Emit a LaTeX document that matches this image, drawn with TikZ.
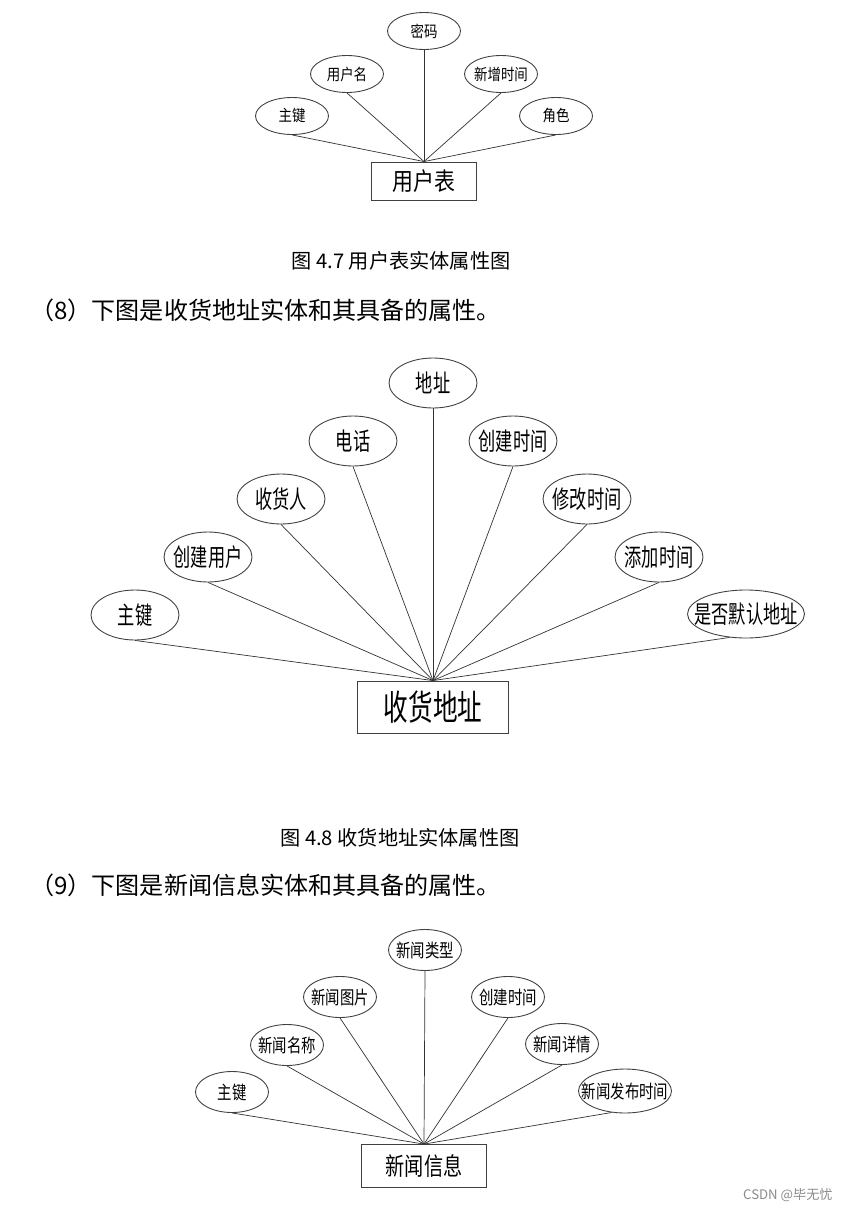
\documentclass[tikz,border=0pt]{standalone}
\usepackage{fontspec}
\newfontfamily\zhfont{Noto Sans CJK SC}
\newfontfamily\tuA[FakeStretch=0.85]{Noto Sans CJK SC}
\newfontfamily\tuB[FakeStretch=0.7]{Noto Sans CJK SC}
\newfontfamily\tuC[FakeStretch=0.78]{Noto Sans CJK SC}
\usetikzlibrary{shapes.geometric}
\begin{document}
\begin{tikzpicture}[x=0.02cm, y=-0.02cm,
    shuxing/.style={ellipse, draw=black!75, line width=0.5pt, inner sep=0pt, fill=white,
        execute at begin node={\hbox to 0pt\bgroup\hss}, execute at end node={\hss\egroup}},
    shiti/.style={rectangle, draw=black!75, line width=0.5pt, inner sep=0pt, fill=white},
    lianxian/.style={draw=black!80, line width=0.4pt},
    tiaomu/.style={font=\zhfont\fontsize{13.7}{15}\selectfont, anchor=west, inner sep=0pt},
    tizhu/.style={font=\zhfont\fontsize{11.5}{13}\selectfont, inner sep=0pt}
]
\useasboundingbox[fill=white] (0,0) rectangle (848,1210);

% 用户表
\begin{scope}[every node/.append style={font=\tuA\fontsize{9}{10}\selectfont}]
\node[shuxing, minimum width=1.46cm, minimum height=0.74cm] (a1) at (292,116) {主键};
\node[shuxing, minimum width=1.46cm, minimum height=0.74cm] (a2) at (347,74) {用户名};
\node[shuxing, minimum width=1.46cm, minimum height=0.74cm] (a3) at (424,31) {密码};
\node[shuxing, minimum width=1.46cm, minimum height=0.74cm] (a4) at (501,74) {新增时间};
\node[shuxing, minimum width=1.46cm, minimum height=0.74cm] (a5) at (556,116) {角色};
\end{scope}
\node[shiti, minimum width=2.1cm, minimum height=0.76cm, font=\tuA\fontsize{14}{16}\selectfont] (yonghu) at (424,181) {用户表};

\draw[lianxian] (a1.south) -- (yonghu.north);
\draw[lianxian] (a2.south) -- (yonghu.north);
\draw[lianxian] (a3.south) -- (yonghu.north);
\draw[lianxian] (a4.south) -- (yonghu.north);
\draw[lianxian] (a5.south) -- (yonghu.north);

\node[tizhu] (cap1) at (401,261) {图 4.7 用户表实体属性图};
\node[tiaomu] (txt8) at (30,310) {（8）下图是收货地址实体和其具备的属性。};

% 收货地址
\begin{scope}[every node/.append style={font=\tuB\fontsize{14}{16}\selectfont}]
\node[shuxing, minimum width=1.76cm, minimum height=1.0cm] (b1) at (135,615) {主键};
\node[shuxing, minimum width=1.76cm, minimum height=1.0cm] (b2) at (208,557) {创建用户};
\node[shuxing, minimum width=1.76cm, minimum height=1.0cm] (b3) at (281,499) {收货人};
\node[shuxing, minimum width=1.76cm, minimum height=1.0cm] (b4) at (353,441) {电话};
\node[shuxing, minimum width=1.76cm, minimum height=1.0cm] (b5) at (433,383) {地址};
\node[shuxing, minimum width=1.76cm, minimum height=1.0cm] (b6) at (513,441) {创建时间};
\node[shuxing, minimum width=1.76cm, minimum height=1.0cm] (b7) at (587,499) {修改时间};
\node[shuxing, minimum width=1.76cm, minimum height=1.0cm] (b8) at (659,557) {添加时间};
\node[shuxing, minimum width=2.34cm, minimum height=0.96cm] (b9) at (746,614) {是否默认地址};
\end{scope}
\node[shiti, minimum width=3.02cm, minimum height=1.04cm, font=\tuB\fontsize{20}{22}\selectfont] (dizhi) at (433,707) {收货地址};

\draw[lianxian] (b1.south) -- (dizhi.north);
\draw[lianxian] (b2.south) -- (dizhi.north);
\draw[lianxian] (b3.south) -- (dizhi.north);
\draw[lianxian] (b4.south) -- (dizhi.north);
\draw[lianxian] (b5.south) -- (dizhi.north);
\draw[lianxian] (b6.south) -- (dizhi.north);
\draw[lianxian] (b7.south) -- (dizhi.north);
\draw[lianxian] (b8.south) -- (dizhi.north);
\draw[lianxian] (b9.-125) -- (dizhi.north);

\node[tizhu] (cap2) at (400,838) {图 4.8 收货地址实体属性图};
\node[tiaomu] (txt9) at (30,885) {（9）下图是新闻信息实体和其具备的属性。};

% 新闻信息
\begin{scope}[every node/.append style={font=\tuC\fontsize{10.5}{12}\selectfont}]
\node[shuxing, minimum width=1.46cm, minimum height=0.82cm] (c1) at (232,1092) {主键};
\node[shuxing, minimum width=1.46cm, minimum height=0.82cm] (c2) at (287,1045) {新闻名称};
\node[shuxing, minimum width=1.46cm, minimum height=0.82cm] (c3) at (340,997) {新闻图片};
\node[shuxing, minimum width=1.46cm, minimum height=0.82cm] (c4) at (425,950) {新闻类型};
\node[shuxing, minimum width=1.46cm, minimum height=0.82cm] (c5) at (508,997) {创建时间};
\node[shuxing, minimum width=1.46cm, minimum height=0.82cm] (c6) at (562,1044) {新闻详情};
\node[shuxing, minimum width=1.86cm, minimum height=0.88cm] (c7) at (625,1091) {新闻发布时间};
\end{scope}
\node[shiti, minimum width=2.5cm, minimum height=0.86cm, font=\tuC\fontsize{14}{16}\selectfont] (xinwen) at (424,1166) {新闻信息};

\draw[lianxian] (c1.south) -- (xinwen.north);
\draw[lianxian] (c2.south) -- (xinwen.north);
\draw[lianxian] (c3.south) -- (xinwen.north);
\draw[lianxian] (c4.south) -- (xinwen.north);
\draw[lianxian] (c5.south) -- (xinwen.north);
\draw[lianxian] (c6.south) -- (xinwen.north);
\draw[lianxian] (c7.-122) -- (xinwen.north);

\node[font=\zhfont\fontsize{7.5}{9}\selectfont, text=black!45, anchor=east, inner sep=0pt] (shuiyin) at (833,1195) {CSDN @毕无忧};
\end{tikzpicture}
\end{document}
